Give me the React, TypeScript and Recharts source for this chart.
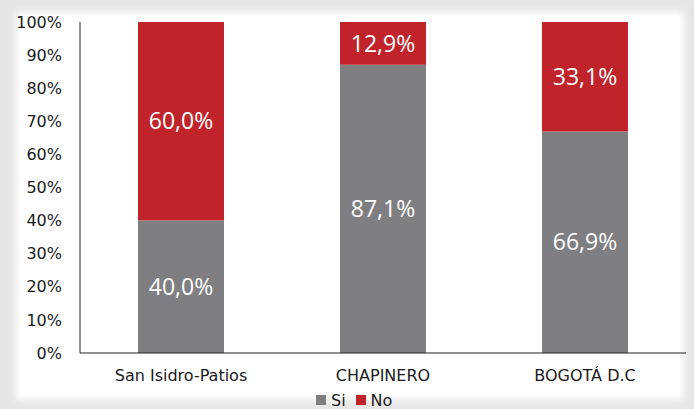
import React from "react";
import { BarChart, Bar, XAxis, YAxis, Legend, LabelList } from "recharts";

const categories = ["San Isidro-Patios", "CHAPINERO", "BOGOTÁ D.C"];
const siValues = [40.0, 87.1, 66.9];
const noValues = [60.0, 12.9, 33.1];
const yTicks = [0, 10, 20, 30, 40, 50, 60, 70, 80, 90, 100];

const data = categories.map((name, i) => ({ name, si: siValues[i], no: noValues[i] }));

const GRAY = "#7f7f82";
const RED = "#c1232a";
const FONT = "'DejaVu Sans', Verdana, sans-serif";
const LABEL_FONT = "'Open Sans', 'Noto Sans', sans-serif";

const fmt = (v: any) => `${Number(v).toFixed(1).replace(".", ",")}%`;

const LegendContent = () => (
  <div style={{ display: "flex", alignItems: "center", height: 18, fontFamily: FONT, fontSize: 16, color: "#1a1a1a", whiteSpace: "nowrap" }}>
    <span style={{ display: "inline-block", width: 10, height: 10, background: GRAY, marginRight: 5 }} />
    <span style={{ marginRight: 10 }}>Si</span>
    <span style={{ display: "inline-block", width: 10, height: 10, background: RED, marginRight: 5 }} />
    <span>No</span>
  </div>
);

export default function App() {
  return (
    <div style={{ position: "absolute", left: 0, top: 0, width: 694, height: 409, background: "#e6e6e6", overflow: "hidden" }}>
      <div style={{ position: "absolute", left: 20, top: 16, width: 660, height: 380, background: "#ffffff", boxShadow: "0 0 8px 4px #ffffff" }} />
      <div style={{ position: "absolute", left: 0, top: 0 }}>
        <BarChart width={694} height={409} data={data} margin={{ top: 22, right: 8, bottom: 0, left: 0 }} barSize={86}>
          <XAxis
            dataKey="name"
            height={38}
            tickLine={false}
            tickSize={0}
            tickMargin={17}
            axisLine={{ stroke: "#222", strokeWidth: 1 }}
            tick={{ fill: "#1a1a1a", fontSize: 16, fontFamily: FONT }}
          />
          <YAxis
            width={80}
            domain={[0, 100]}
            ticks={yTicks}
            interval={0}
            tickFormatter={(v: any) => `${v}%`}
            tickLine={false}
            tickSize={0}
            tickMargin={18}
            axisLine={{ stroke: "#222", strokeWidth: 1 }}
            tick={{ fill: "#1a1a1a", fontSize: 16, fontFamily: FONT }}
          />
          <Legend
            verticalAlign="bottom"
            content={<LegendContent />}
            wrapperStyle={{ top: 391, left: 316, width: 120, height: 18 }}
          />
          <Bar dataKey="si" name="Si" stackId="a" fill={GRAY} isAnimationActive={false}>
            <LabelList dataKey="si" position="center" formatter={fmt} fill="#ffffff" style={{ fontSize: 23, fontFamily: LABEL_FONT }} />
          </Bar>
          <Bar dataKey="no" name="No" stackId="a" fill={RED} isAnimationActive={false}>
            <LabelList dataKey="no" position="center" formatter={fmt} fill="#ffffff" style={{ fontSize: 23, fontFamily: LABEL_FONT }} />
          </Bar>
        </BarChart>
      </div>
    </div>
  );
}
